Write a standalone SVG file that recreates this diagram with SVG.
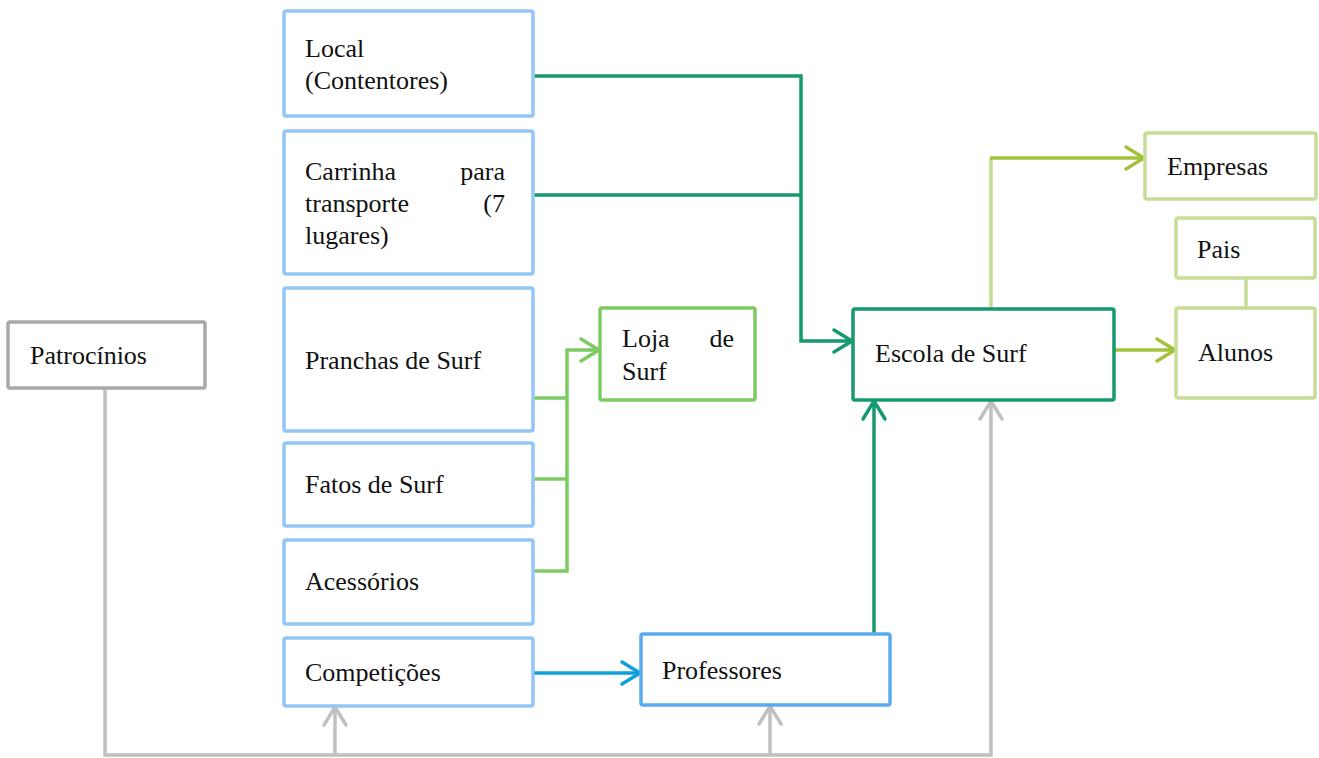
<svg xmlns="http://www.w3.org/2000/svg" width="1319" height="758" viewBox="0 0 1319 758">
<style>
text{font-family:"Liberation Serif","Times New Roman",serif;font-size:26px;fill:#111}
.box{fill:#fff;stroke-width:3.5}
.blue{stroke:#93c6f5}
.prof{stroke:#5aaaf0}
.esc{stroke:#16996f}
.loja{stroke:#7ccb62}
.lg{stroke:#c7dd95}
.gray{stroke:#a8a8a8}
.c{fill:none;stroke-width:3.5}
</style>
<defs>
<marker id="aDG" markerUnits="userSpaceOnUse" viewBox="-22 -14 26 28" markerWidth="26" markerHeight="28" refX="1" refY="0" orient="auto"><path d="M-18,-11 L0,0 L-18,11" fill="none" stroke="#16996f" stroke-width="3.5" stroke-linecap="round"/></marker>
<marker id="aG" markerUnits="userSpaceOnUse" viewBox="-22 -14 26 28" markerWidth="26" markerHeight="28" refX="1" refY="0" orient="auto"><path d="M-18,-11 L0,0 L-18,11" fill="none" stroke="#7ccb62" stroke-width="3.5" stroke-linecap="round"/></marker>
<marker id="aY" markerUnits="userSpaceOnUse" viewBox="-22 -14 26 28" markerWidth="26" markerHeight="28" refX="1" refY="0" orient="auto"><path d="M-18,-11 L0,0 L-18,11" fill="none" stroke="#a3c23c" stroke-width="3.5" stroke-linecap="round"/></marker>
<marker id="aB" markerUnits="userSpaceOnUse" viewBox="-22 -14 26 28" markerWidth="26" markerHeight="28" refX="1" refY="0" orient="auto"><path d="M-18,-11 L0,0 L-18,11" fill="none" stroke="#0e9fdc" stroke-width="3.5" stroke-linecap="round"/></marker>
<marker id="aGr" markerUnits="userSpaceOnUse" viewBox="-22 -14 26 28" markerWidth="26" markerHeight="28" refX="1" refY="0" orient="auto"><path d="M-18,-11 L0,0 L-18,11" fill="none" stroke="#c0c0c0" stroke-width="3.5" stroke-linecap="round"/></marker>
</defs>
<rect width="1319" height="758" fill="#fff"/>
<g id="connectors">
<path class="c" stroke="#16996f" d="M533,76 H801 V341 H853" marker-end="url(#aDG)"/>
<path class="c" stroke="#16996f" d="M533,195 H801"/>
<path class="c" stroke="#16996f" d="M874,634 V400" marker-end="url(#aDG)"/>
<path class="c" stroke="#7ccb62" d="M533,571 H567 V350 H600" marker-end="url(#aG)"/>
<path class="c" stroke="#7ccb62" d="M533,398 H567 M533,479 H567"/>
<path class="c" stroke="#a3c23c" d="M1114,350 H1176" marker-end="url(#aY)"/>
<path class="c" stroke="#c7dd95" d="M991,309 V158"/>
<path class="c" stroke="#a3c23c" d="M990,158 H1145" marker-end="url(#aY)"/>
<path class="c" stroke="#c7dd95" d="M1246,278 V308"/>
<path class="c" stroke="#0e9fdc" d="M533,673 H641" marker-end="url(#aB)"/>
<path class="c" stroke="#c0c0c0" d="M105,388 V755 H991 V400" marker-end="url(#aGr)"/>
<path class="c" stroke="#c0c0c0" d="M335,755 V706" marker-end="url(#aGr)"/>
<path class="c" stroke="#c0c0c0" d="M770,755 V705" marker-end="url(#aGr)"/>
</g>
<g id="local"><rect class="box blue" x="284" y="11" width="249" height="105" rx="2"/><text x="305" y="57">Local</text><text x="305" y="89">(Contentores)</text></g>
<g id="carrinha"><rect class="box blue" x="284" y="131" width="249" height="143" rx="2"/><text x="305" y="180">Carrinha</text><text x="505" y="180" text-anchor="end">para</text><text x="305" y="212">transporte</text><text x="505" y="212" text-anchor="end">(7</text><text x="305" y="244">lugares)</text></g>
<g id="pranchas"><rect class="box blue" x="284" y="288" width="249" height="143" rx="2"/><text x="305" y="369">Pranchas de Surf</text></g>
<g id="fatos"><rect class="box blue" x="284" y="443" width="249" height="83" rx="2"/><text x="305" y="493">Fatos de Surf</text></g>
<g id="acessorios"><rect class="box blue" x="284" y="540" width="249" height="84" rx="2"/><text x="305" y="590">Acessórios</text></g>
<g id="competicoes"><rect class="box blue" x="284" y="638" width="249" height="68" rx="2"/><text x="305" y="681">Competições</text></g>
<g id="professores"><rect class="box prof" x="641" y="634" width="249" height="71" rx="2"/><text x="662" y="679">Professores</text></g>
<g id="loja"><rect class="box loja" x="600" y="308" width="155" height="92" rx="2"/><text x="622" y="347">Loja</text><text x="734" y="347" text-anchor="end">de</text><text x="622" y="380">Surf</text></g>
<g id="escola"><rect class="box esc" x="853" y="309" width="261" height="91" rx="2"/><text x="875" y="362">Escola de Surf</text></g>
<g id="empresas"><rect class="box lg" x="1145" y="133" width="171" height="66" rx="2"/><text x="1167" y="175">Empresas</text></g>
<g id="pais"><rect class="box lg" x="1176" y="218" width="139" height="60" rx="2"/><text x="1197" y="258">Pais</text></g>
<g id="alunos"><rect class="box lg" x="1176" y="308" width="139" height="90" rx="2"/><text x="1198" y="361">Alunos</text></g>
<g id="patrocinios"><rect class="box gray" x="8" y="322" width="197" height="66" rx="2"/><text x="30" y="364">Patrocínios</text></g>
</svg>
